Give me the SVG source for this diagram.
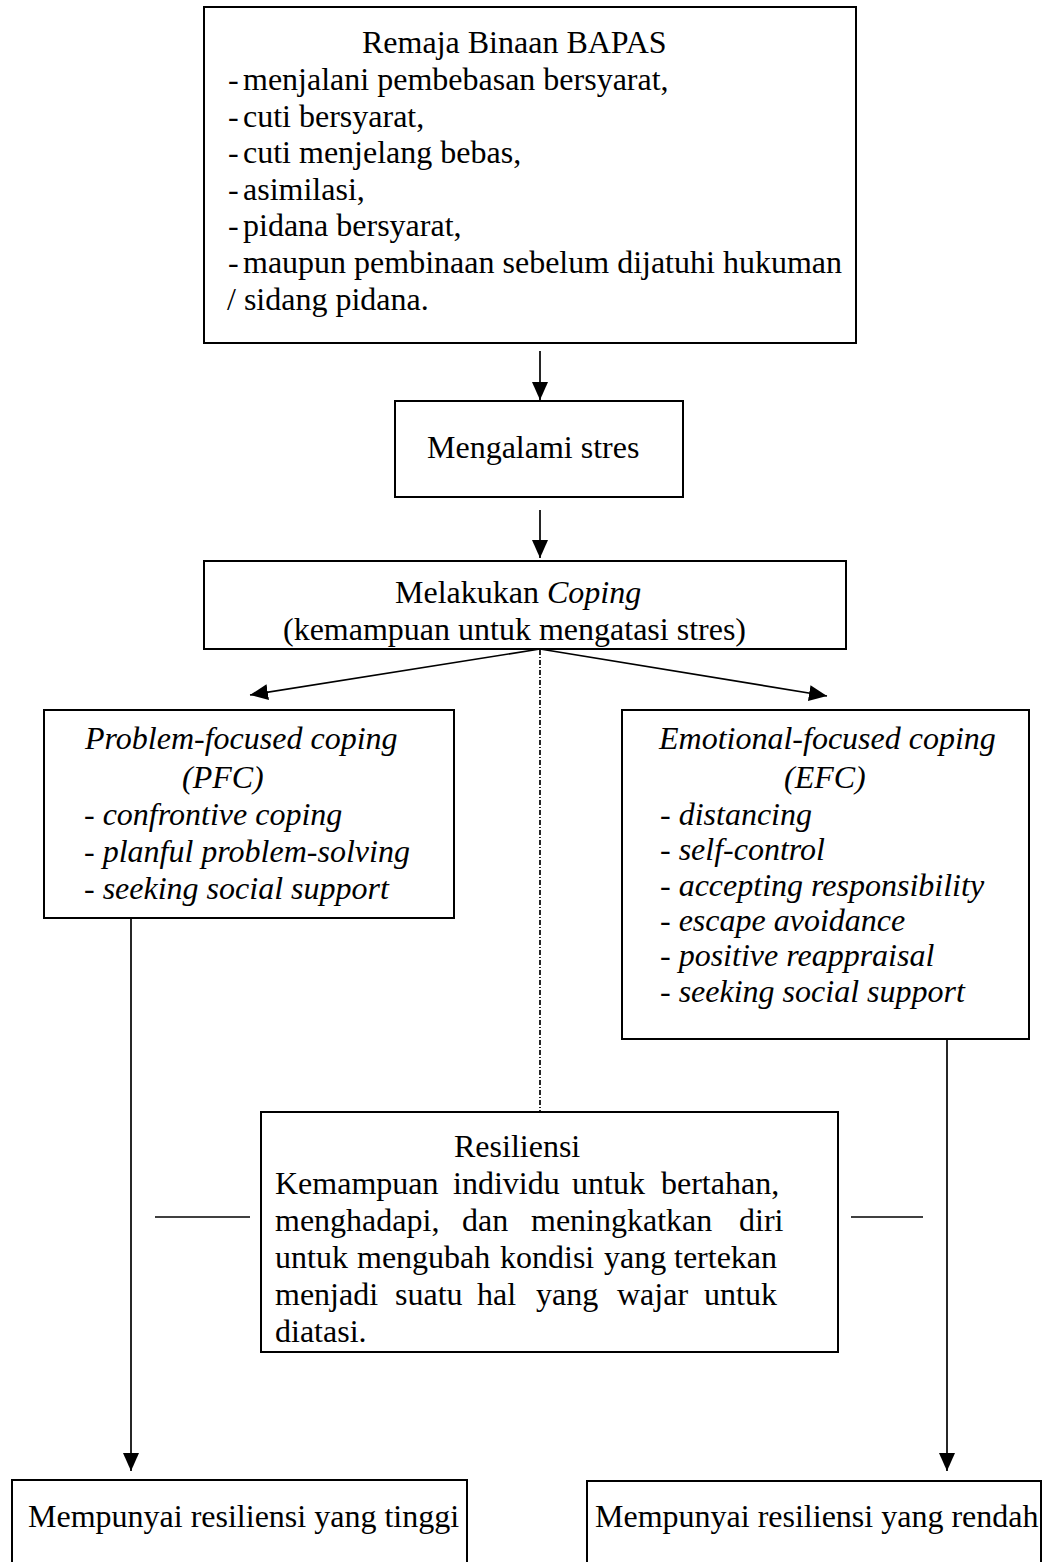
<svg xmlns="http://www.w3.org/2000/svg" width="1047" height="1562" viewBox="0 0 1047 1562">
<style>
  text { font-family: "Liberation Serif", "Times New Roman", serif; font-size: 32px; fill: #000; }
  .it { font-style: italic; }
  .box { fill: #fff; stroke: #000; stroke-width: 2; }
  .conn { stroke: #000; stroke-width: 1.7; fill: none; }
  .dd { stroke: #000; stroke-width: 1.7; fill: none; stroke-dasharray: 5 2 1 2; }
</style>
<defs>
  <marker id="ah" viewBox="0 0 18 16" refX="18" refY="8" markerWidth="18" markerHeight="16" markerUnits="userSpaceOnUse" orient="auto">
    <path d="M0,0 L18,8 L0,16 z" fill="#000"/>
  </marker>
</defs>

<g id="connectors">
  <line class="conn" x1="540" y1="351" x2="540" y2="400" marker-end="url(#ah)"/>
  <line class="conn" x1="540" y1="510" x2="540" y2="558" marker-end="url(#ah)"/>
  <line class="conn" x1="540" y1="649" x2="250" y2="695" marker-end="url(#ah)"/>
  <line class="conn" x1="540" y1="649" x2="827" y2="696" marker-end="url(#ah)"/>
  <line class="dd" x1="540" y1="650" x2="540" y2="1112"/>
  <line class="conn" x1="131" y1="918" x2="131" y2="1471" marker-end="url(#ah)"/>
  <line class="conn" x1="947" y1="1039" x2="947" y2="1471" marker-end="url(#ah)"/>
  <line class="conn" x1="155" y1="1217" x2="250" y2="1217"/>
  <line class="conn" x1="851" y1="1217" x2="923" y2="1217"/>
</g>

<g id="node-remaja">
  <rect class="box" x="204" y="7" width="652" height="336"/>
  <text x="362" y="53">Remaja Binaan BAPAS</text>
  <text y="90"><tspan x="228">-</tspan><tspan x="243">menjalani pembebasan bersyarat,</tspan></text>
  <text y="127"><tspan x="228">-</tspan><tspan x="243">cuti bersyarat,</tspan></text>
  <text y="163"><tspan x="228">-</tspan><tspan x="243">cuti menjelang bebas,</tspan></text>
  <text y="200"><tspan x="228">-</tspan><tspan x="243">asimilasi,</tspan></text>
  <text y="236"><tspan x="228">-</tspan><tspan x="243">pidana bersyarat,</tspan></text>
  <text y="273"><tspan x="228">-</tspan><tspan x="243">maupun pembinaan sebelum dijatuhi hukuman</tspan></text>
  <text x="227" y="310">/ sidang pidana.</text>
</g>

<g id="node-stres">
  <rect class="box" x="395" y="401" width="288" height="96"/>
  <text x="427" y="458">Mengalami stres</text>
</g>

<g id="node-coping">
  <rect class="box" x="204" y="561" width="642" height="88"/>
  <text x="395" y="603">Melakukan <tspan class="it">Coping</tspan></text>
  <text x="283" y="640">(kemampuan untuk mengatasi stres)</text>
</g>

<g id="node-pfc">
  <rect class="box" x="44" y="710" width="410" height="208"/>
  <text class="it" x="85" y="749">Problem-focused coping</text>
  <text class="it" x="182" y="788">(PFC)</text>
  <text class="it" x="84" y="825">- confrontive coping</text>
  <text class="it" x="84" y="862">- planful problem-solving</text>
  <text class="it" x="84" y="899">- seeking social support</text>
</g>

<g id="node-efc">
  <rect class="box" x="622" y="710" width="407" height="329"/>
  <text class="it" x="659" y="749">Emotional-focused coping</text>
  <text class="it" x="784" y="788">(EFC)</text>
  <text class="it" x="660" y="825">- distancing</text>
  <text class="it" x="660" y="860">- self-control</text>
  <text class="it" x="660" y="896">- accepting responsibility</text>
  <text class="it" x="660" y="931">- escape avoidance</text>
  <text class="it" x="660" y="966">- positive reappraisal</text>
  <text class="it" x="660" y="1002">- seeking social support</text>
</g>

<g id="node-resiliensi">
  <rect class="box" x="261" y="1112" width="577" height="240"/>
  <text x="454" y="1157">Resiliensi</text>
  <text y="1194"><tspan x="275">Kemampuan</tspan><tspan x="453">individu</tspan><tspan x="572">untuk</tspan><tspan x="661">bertahan,</tspan></text>
  <text y="1231"><tspan x="275">menghadapi,</tspan><tspan x="462">dan</tspan><tspan x="531">meningkatkan</tspan><tspan x="739">diri</tspan></text>
  <text y="1268"><tspan x="275">untuk</tspan><tspan x="357">mengubah</tspan><tspan x="500">kondisi</tspan><tspan x="604">yang</tspan><tspan x="674">tertekan</tspan></text>
  <text y="1305"><tspan x="275">menjadi</tspan><tspan x="395">suatu</tspan><tspan x="477">hal</tspan><tspan x="536">yang</tspan><tspan x="617">wajar</tspan><tspan x="704">untuk</tspan></text>
  <text x="275" y="1342">diatasi.</text>
</g>

<g id="node-tinggi">
  <rect class="box" x="12" y="1480" width="455" height="120"/>
  <text x="28" y="1527">Mempunyai resiliensi yang tinggi</text>
</g>

<g id="node-rendah">
  <rect class="box" x="587" y="1481" width="454" height="120"/>
  <text x="595" y="1527">Mempunyai resiliensi yang rendah</text>
</g>
</svg>
